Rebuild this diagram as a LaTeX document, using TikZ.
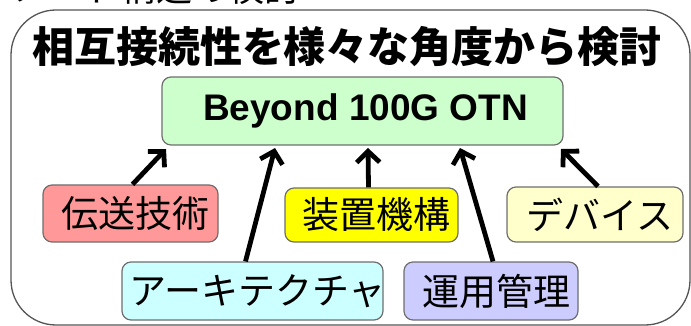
\documentclass[tikz,border=0pt]{standalone}
\usepackage{fontspec}
\setmainfont{Liberation Sans}
\newfontfamily\jp{Noto Sans CJK JP}
\usetikzlibrary{arrows.meta}
\definecolor{boxgray}{HTML}{6E6E6E}
\definecolor{outergray}{HTML}{555555}
\definecolor{otnfill}{HTML}{CCFFCC}
\definecolor{techfill}{HTML}{FF9999}
\definecolor{equipfill}{HTML}{FFFF00}
\definecolor{devfill}{HTML}{FFFFCC}
\definecolor{archfill}{HTML}{CCFFFF}
\definecolor{opsfill}{HTML}{CCCCFF}
\tikzset{
  boxnode/.style={draw=boxgray, line width=1.2pt, rounded corners=9pt, inner sep=0pt},
  lbl/.style={font=\jp\fontsize{37}{37}\selectfont, inner sep=0pt, xshift=5pt},
  arr/.style={line width=4.8pt, -{Straight Barb[length=11pt, width=23pt]}},
}
\begin{document}
\begin{tikzpicture}[x=1pt, y=-1pt]
\useasboundingbox (0,0) rectangle (691,326);
\clip (0,0) rectangle (691,326);
% cut-off heading above the frame
\node[anchor=base west, inner sep=0pt, font=\jp\fontsize{36}{36}\selectfont] (head) at (12,1.5) {ノード構造の検討};
% outer frame
\draw[outergray, line width=1.3pt, rounded corners=45pt] (11,10) rectangle (690,325);
% title
\node[inner sep=0pt, font=\jp\bfseries\fontsize{42}{42}\selectfont] (title) at (347,47) {相互接続性を様々な角度から検討};
% central box
\node[boxnode, fill=otnfill, minimum width=401pt, minimum height=68pt,
      label={[inner sep=0pt, font=\bfseries\fontsize{37}{37}\selectfont, xshift=3pt]center:Beyond 100G OTN}] (otn) at (362.5,111) {};
% surrounding boxes
\node[boxnode, fill=techfill, minimum width=175pt, minimum height=57pt,
      label={[lbl]center:伝送技術}] (tech) at (130.5,213.5) {};
\node[boxnode, fill=equipfill, minimum width=173pt, minimum height=54pt,
      label={[lbl]center:装置機構}] (equip) at (371.5,215) {};
\node[boxnode, fill=devfill, minimum width=176pt, minimum height=55pt,
      label={[lbl]center:デバイス}] (dev) at (595,214.5) {};
\node[boxnode, fill=archfill, minimum width=261pt, minimum height=58pt,
      label={[lbl]center:アーキテクチャ}] (arch) at (252.5,291) {};
\node[boxnode, fill=opsfill, minimum width=174pt, minimum height=58pt,
      label={[lbl]center:運用管理}] (ops) at (491,291) {};
% arrow targets on the central box
\coordinate (t1) at (166,149);
\coordinate (t2) at (275,148);
\coordinate (t3) at (368,148);
\coordinate (t4) at (460,148);
\coordinate (t5) at (561,149);
\draw[arr] ([xshift=2pt]tech.north) -- (t1);
\draw[arr] ([xshift=-7pt]arch.north) -- (t2);
\draw[arr] ([xshift=-3pt]equip.north) -- (t3);
\draw[arr] ([xshift=2pt]ops.north) -- (t4);
\draw[arr] ([xshift=3pt]dev.north) -- (t5);
\end{tikzpicture}
\end{document}
